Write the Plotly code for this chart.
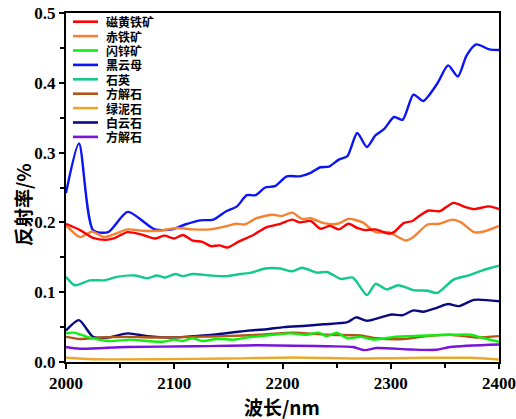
import plotly.graph_objects as go

# Reflectance spectra (2000-2400 nm) of several minerals
names = ["磁黄铁矿", "赤铁矿", "闪锌矿", "黑云母", "石英", "方解石", "绿泥石", "白云石", "方解石"]
colors = ["#FF0000", "#F58231", "#11EE11", "#0A14F5", "#12C98B", "#B0561A", "#E9A829", "#0A0A80", "#7A12DC"]

pyrrhotite_x = [2000, 2013, 2025, 2037, 2044, 2057, 2071, 2082, 2091, 2100, 2108, 2117, 2126, 2134, 2142, 2149, 2159, 2173, 2185, 2198, 2209, 2216, 2226, 2235, 2244, 2252, 2261, 2269, 2276, 2286, 2298, 2303, 2312, 2320, 2327, 2335, 2345, 2358, 2369, 2377, 2391, 2400]
pyrrhotite_y = [0.198, 0.189, 0.178, 0.175, 0.177, 0.186, 0.182, 0.177, 0.181, 0.177, 0.182, 0.174, 0.172, 0.166, 0.167, 0.164, 0.172, 0.182, 0.193, 0.198, 0.204, 0.200, 0.202, 0.191, 0.195, 0.190, 0.198, 0.192, 0.189, 0.190, 0.184, 0.186, 0.199, 0.202, 0.210, 0.217, 0.216, 0.228, 0.222, 0.219, 0.223, 0.219]

hematite_x = [2000, 2013, 2024, 2035, 2046, 2057, 2071, 2086, 2102, 2117, 2133, 2149, 2157, 2165, 2176, 2191, 2199, 2209, 2218, 2226, 2238, 2251, 2261, 2274, 2286, 2298, 2314, 2321, 2334, 2345, 2357, 2365, 2377, 2386, 2400]
hematite_y = [0.196, 0.179, 0.187, 0.179, 0.184, 0.190, 0.188, 0.188, 0.192, 0.190, 0.190, 0.195, 0.198, 0.197, 0.206, 0.211, 0.209, 0.214, 0.205, 0.206, 0.199, 0.198, 0.205, 0.200, 0.186, 0.186, 0.174, 0.179, 0.197, 0.198, 0.204, 0.200, 0.186, 0.187, 0.195]

sphalerite_x = [2000, 2007, 2022, 2040, 2059, 2075, 2090, 2100, 2108, 2117, 2126, 2139, 2155, 2167, 2185, 2207, 2222, 2233, 2241, 2250, 2260, 2272, 2284, 2303, 2318, 2334, 2358, 2374, 2386, 2400]
sphalerite_y = [0.041, 0.042, 0.035, 0.030, 0.032, 0.030, 0.029, 0.032, 0.030, 0.034, 0.030, 0.033, 0.032, 0.035, 0.038, 0.041, 0.039, 0.042, 0.037, 0.042, 0.034, 0.036, 0.032, 0.036, 0.037, 0.038, 0.039, 0.039, 0.034, 0.029]

biotite_x = [2000, 2012, 2025, 2039, 2057, 2082, 2098, 2110, 2124, 2136, 2148, 2158, 2167, 2175, 2184, 2193, 2204, 2216, 2226, 2235, 2243, 2252, 2260, 2269, 2278, 2286, 2294, 2303, 2311, 2321, 2330, 2343, 2353, 2362, 2370, 2379, 2391, 2400]
biotite_y = [0.242, 0.313, 0.189, 0.186, 0.215, 0.190, 0.190, 0.197, 0.203, 0.204, 0.216, 0.223, 0.239, 0.239, 0.250, 0.252, 0.266, 0.266, 0.271, 0.279, 0.280, 0.290, 0.295, 0.328, 0.308, 0.325, 0.334, 0.351, 0.347, 0.383, 0.374, 0.399, 0.425, 0.409, 0.439, 0.455, 0.448, 0.447]

quartz_x = [2000, 2008, 2022, 2035, 2047, 2064, 2075, 2084, 2091, 2101, 2108, 2117, 2133, 2148, 2161, 2171, 2184, 2198, 2209, 2218, 2232, 2241, 2254, 2265, 2278, 2286, 2296, 2307, 2321, 2334, 2343, 2358, 2372, 2386, 2400]
quartz_y = [0.122, 0.110, 0.117, 0.117, 0.122, 0.124, 0.120, 0.124, 0.121, 0.126, 0.123, 0.126, 0.124, 0.123, 0.126, 0.128, 0.134, 0.134, 0.130, 0.135, 0.128, 0.129, 0.119, 0.121, 0.096, 0.112, 0.104, 0.110, 0.103, 0.102, 0.099, 0.118, 0.124, 0.132, 0.138]

calcite_x = [2000, 2013, 2031, 2056, 2087, 2118, 2148, 2179, 2210, 2241, 2272, 2287, 2312, 2333, 2355, 2379, 2400]
calcite_y = [0.036, 0.033, 0.035, 0.036, 0.035, 0.036, 0.037, 0.039, 0.042, 0.039, 0.038, 0.034, 0.033, 0.037, 0.039, 0.035, 0.037]

chlorite_x = [2000, 2025, 2087, 2148, 2210, 2272, 2333, 2373, 2400]
chlorite_y = [0.006, 0.004, 0.004, 0.005, 0.0065, 0.005, 0.006, 0.006, 0.0035]

dolomite_x = [2000, 2012, 2025, 2039, 2057, 2075, 2096, 2117, 2136, 2157, 2168, 2185, 2201, 2222, 2238, 2260, 2268, 2278, 2291, 2301, 2311, 2321, 2330, 2343, 2353, 2363, 2377, 2400]
dolomite_y = [0.045, 0.060, 0.036, 0.035, 0.041, 0.037, 0.035, 0.037, 0.039, 0.043, 0.045, 0.047, 0.050, 0.052, 0.054, 0.057, 0.064, 0.059, 0.064, 0.068, 0.067, 0.074, 0.072, 0.078, 0.083, 0.080, 0.089, 0.087]

calcite2_x = [2000, 2013, 2056, 2118, 2179, 2241, 2265, 2276, 2287, 2318, 2342, 2355, 2400]
calcite2_y = [0.0215, 0.019, 0.0215, 0.0225, 0.024, 0.0225, 0.0215, 0.017, 0.020, 0.018, 0.0175, 0.0215, 0.025]

series = [
    (pyrrhotite_x, pyrrhotite_y),
    (hematite_x, hematite_y),
    (sphalerite_x, sphalerite_y),
    (biotite_x, biotite_y),
    (quartz_x, quartz_y),
    (calcite_x, calcite_y),
    (chlorite_x, chlorite_y),
    (dolomite_x, dolomite_y),
    (calcite2_x, calcite2_y),
]

x_ticks = [2000, 2100, 2200, 2300, 2400]
y_ticks = [0.0, 0.1, 0.2, 0.3, 0.4, 0.5]

num_font = "Liberation Serif, DejaVu Serif, serif"
cjk_font = "Noto Sans CJK SC"

fig = go.Figure()
# draw from bottom to top so that the first series sit above the later ones
for i in reversed(range(len(series))):
    xs, ys = series[i]
    fig.add_trace(go.Scatter(
        x=xs, y=ys, mode="lines", name=names[i],
        line=dict(color=colors[i], width=2.4, shape="spline", smoothing=0.7),
        showlegend=False,
    ))

W, H = 516, 419
L, R, T, B = 66, 17, 13, 57
pw, ph = W - L - R, H - T - B

# compact legend block in the upper-left corner of the plot
leg_top = 21.7
leg_gap = 14.4
for i, name in enumerate(names):
    ypx = leg_top + i * leg_gap
    yp = 1 - (ypx - T) / ph
    fig.add_shape(type="line", xref="paper", yref="paper",
                  x0=(73 - L) / pw, x1=(98 - L) / pw, y0=yp, y1=yp,
                  line=dict(color=colors[i], width=2.6))
    fig.add_annotation(xref="paper", yref="paper", x=(105 - L) / pw, y=yp,
                       text="<b>" + name + "</b>", showarrow=False,
                       xanchor="left", yanchor="middle", borderpad=0,
                       font=dict(family=cjk_font, size=12, color="black"))

# axis titles
fig.add_annotation(xref="paper", yref="paper", x=(282 - L) / pw, y=-(406 - T - ph) / ph,
                   text="<b>波长/nm</b>", showarrow=False, xanchor="center", yanchor="middle",
                   font=dict(family=cjk_font, size=19, color="black"))
fig.add_annotation(xref="paper", yref="paper", x=-(L - 22) / pw, y=1 - (205 - T) / ph,
                   text="<b>反射率/%</b>", showarrow=False, textangle=-90,
                   xanchor="center", yanchor="middle",
                   font=dict(family=cjk_font, size=19, color="black"))

axis_common = dict(
    showline=True, linecolor="black", linewidth=2, mirror=True,
    ticks="outside", tickcolor="black", tickwidth=2, ticklen=5,
    showgrid=False, zeroline=False, automargin=False,
    tickfont=dict(family=num_font, size=17, color="black"),
)

fig.update_xaxes(range=[2000, 2400], tickvals=x_ticks,
                 ticktext=["<b>%d</b>" % v for v in x_ticks],
                 minor=dict(ticks="outside", dtick=50, ticklen=4, tickwidth=2, tickcolor="black"),
                 **axis_common)
fig.update_yaxes(range=[0, 0.5], tickvals=y_ticks,
                 ticktext=["<b>%.1f</b>" % v for v in y_ticks],
                 minor=dict(ticks="outside", dtick=0.05, ticklen=4, tickwidth=2, tickcolor="black"),
                 **axis_common)

fig.update_layout(
    width=W, height=H,
    margin=dict(l=L, r=R, t=T, b=B, autoexpand=False),
    plot_bgcolor="white", paper_bgcolor="white",
    showlegend=False,
    font=dict(family=num_font),
)

fig.write_html("out.html")
